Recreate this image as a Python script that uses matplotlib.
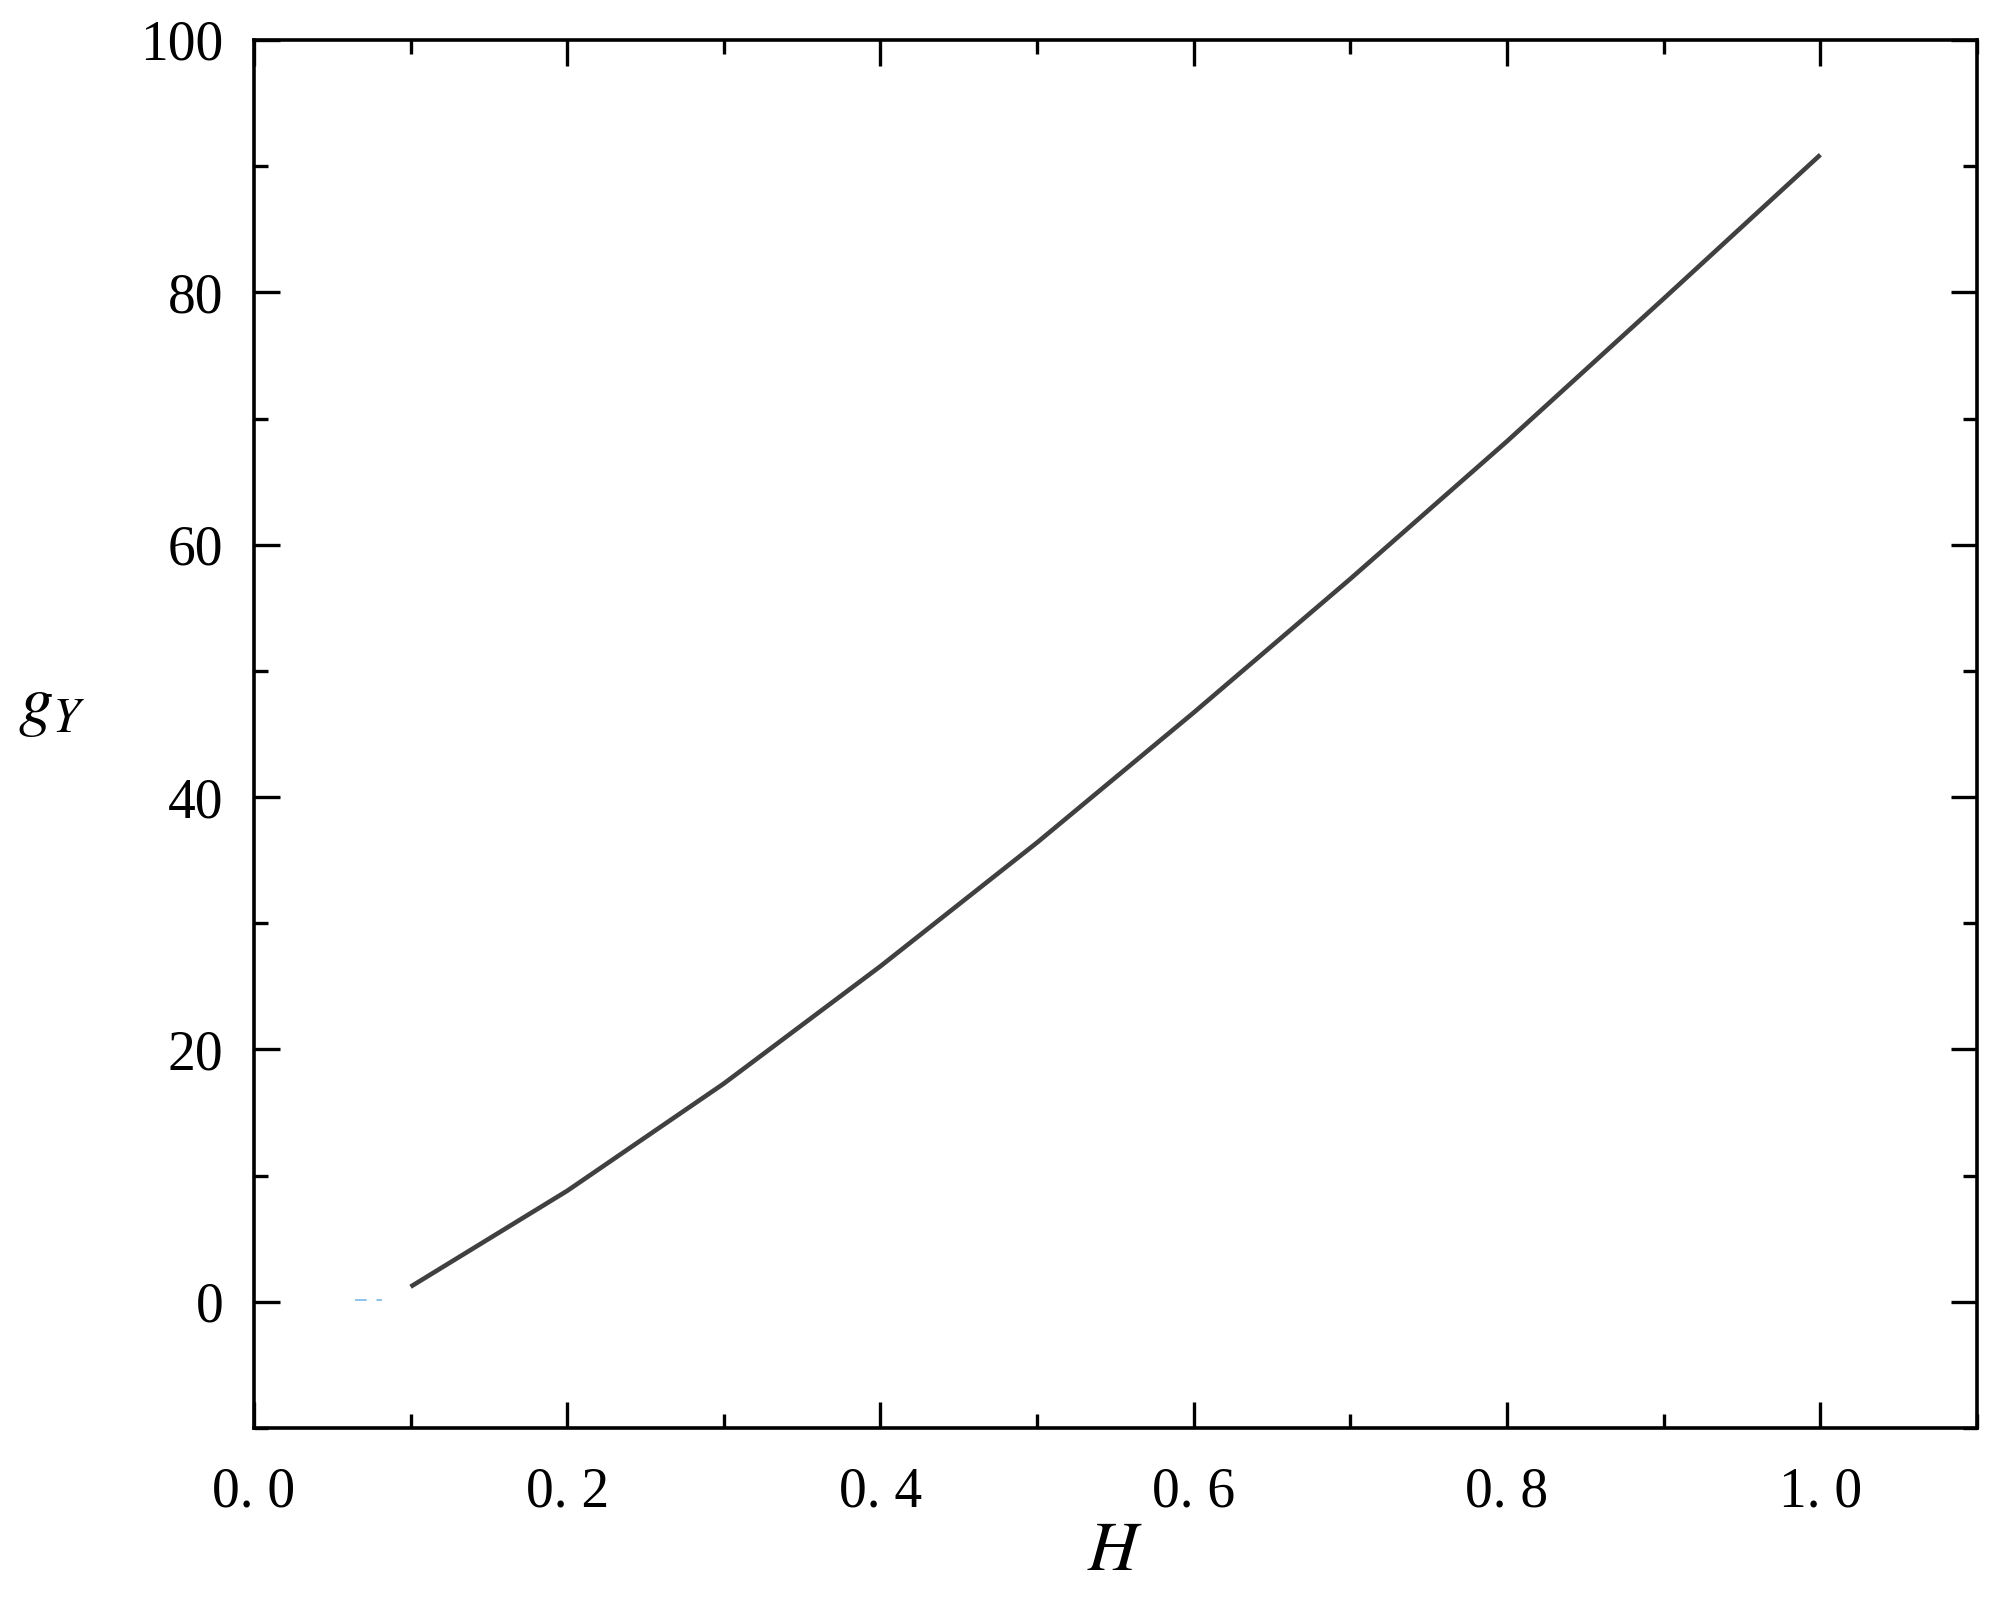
import matplotlib
matplotlib.use("Agg")
import matplotlib.pyplot as plt
from matplotlib.ticker import MultipleLocator, FixedLocator

plt.rcParams['font.family'] = ['Liberation Serif', 'DejaVu Serif']
plt.rcParams['mathtext.fontset'] = 'stix'

# curve
H = [0.1, 0.2, 0.3, 0.4, 0.5, 0.6, 0.7, 0.8, 0.9, 1.0]
gY = [1.2, 8.8, 17.3, 26.6, 36.4, 46.7, 57.3, 68.2, 79.5, 90.9]

# small blue dashed stub near the origin
stub_H = [0.0645, 0.082]
stub_g = [0.15, 0.15]

xticks = [0.0, 0.2, 0.4, 0.6, 0.8, 1.0]
xticklabels = ["0. 0", "0. 2", "0. 4", "0. 6", "0. 8", "1. 0"]
yticks = [0, 20, 40, 60, 80, 100]

fig = plt.figure(figsize=(20.01, 16.10), dpi=100)
ax = fig.add_axes([0.1269, 0.1130, 0.988 - 0.1269, 0.9752 - 0.1130])

ax.plot(H, gY, color='#404040', lw=3.3, solid_capstyle='butt',
        solid_joinstyle='round')
ax.plot(stub_H, stub_g, color='#8cc4ec', lw=1.4, dashes=(6, 5))

ax.set_xlim(0, 1.1)
ax.set_ylim(-10, 100)
ax.xaxis.set_major_locator(FixedLocator(xticks))
ax.set_xticklabels(xticklabels)
ax.xaxis.set_minor_locator(MultipleLocator(0.1))
ax.set_yticks(yticks)
ax.yaxis.set_minor_locator(MultipleLocator(10))

for s in ax.spines.values():
    s.set_linewidth(2.6)

ax.tick_params(which='both', direction='in', top=True, right=True, width=2.4)
ax.tick_params(which='major', length=19, labelsize=40)
ax.tick_params(axis='x', which='major', pad=28)
ax.tick_params(axis='y', which='major', pad=22)
ax.tick_params(which='minor', length=10)

ax.set_xlabel('$H$', fontsize=50, labelpad=2)
fig.text(0.026, 0.561, '$g_Y$', fontsize=50, ha='center', va='center')

plt.savefig('out.png', dpi=100)
